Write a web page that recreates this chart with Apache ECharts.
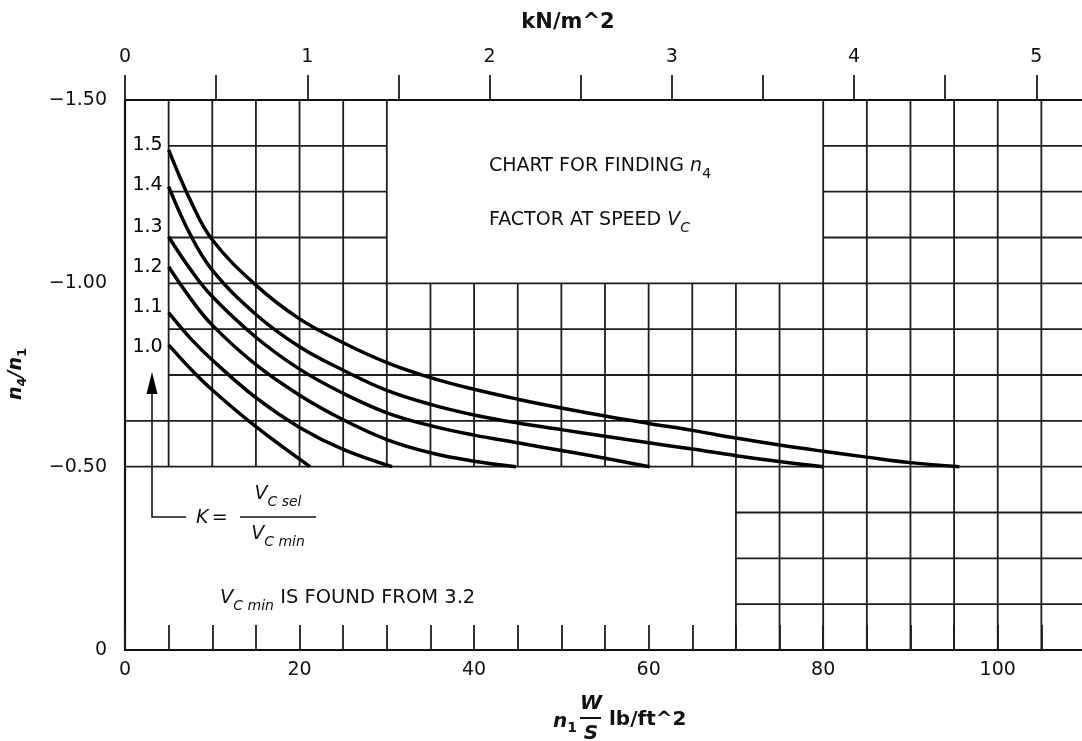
<!DOCTYPE html>
<html><head><meta charset="utf-8">
<script src="https://cdn.jsdelivr.net/npm/echarts@6/dist/echarts.min.js"></script>
<style>html,body{margin:0;padding:0;background:#fff}#c{width:1082px;height:741px}</style>
</head><body><div id="c"></div>
<script>
// ---- scales / ticks ----
const X_MAX = 110;              // lb/ft^2
const LB_PER_KN = 20.885;       // 1 kN/m^2 = 20.885 lb/ft^2
const xTickLabels = [0, 20, 40, 60, 80, 100];
const topTickLabels = [0, 1, 2, 3, 4, 5];
const yTickLabels = [-1.5, -1.0, -0.5, 0];
const GRID_STEP_X = 5, GRID_STEP_Y = 0.125;

// ---- curves: K value -> [n1 W/S, n4/n1 axis value] ----
const curveNames = ['1.0', '1.1', '1.2', '1.3', '1.4', '1.5'];
const k10 = [[5, -0.832], [7.5, -0.767], [10, -0.709], [15, -0.609], [21.2, -0.5]];
const k11 = [[5, -0.920], [7.5, -0.850], [10, -0.791], [15, -0.688], [20, -0.607], [25, -0.547], [30.6, -0.5]];
const k12 = [[5, -1.045], [7.5, -0.959], [10, -0.886], [15, -0.778], [20, -0.695], [25, -0.628], [30, -0.574], [35, -0.538], [40, -0.515], [44.8, -0.5]];
const k13 = [[5, -1.127], [7.5, -1.038], [10, -0.964], [15, -0.853], [20, -0.766], [25, -0.700], [30, -0.647], [35, -0.612], [40, -0.586], [45, -0.565], [50, -0.544], [55, -0.523], [60.1, -0.5]];
const k14 = [[5, -1.264], [7.5, -1.132], [10, -1.036], [15, -0.915], [20, -0.827], [25, -0.763], [30, -0.708], [35, -0.670], [40, -0.641], [45, -0.619], [50, -0.601], [55, -0.583], [60, -0.565], [65, -0.548], [70, -0.530], [75, -0.514], [80, -0.5]];
const k15 = [[5, -1.364], [7.5, -1.226], [10, -1.119], [15, -0.995], [20, -0.903], [25, -0.838], [30, -0.784], [35, -0.743], [40, -0.711], [45, -0.684], [50, -0.660], [55, -0.638], [60, -0.618], [65, -0.599], [70, -0.578], [75, -0.559], [80, -0.542], [85, -0.526], [90, -0.511], [95.6, -0.5]];
const curves = [k10, k11, k12, k13, k14, k15];

// blank panels of the chart paper (no grid drawn inside), in data units
const blankPanels = [
  { x: [30, 80], y: [-1.5, -1.0] },
  { x: [0, 70], y: [-0.5, 0] },
  { x: [0, 5], y: [-1.5, -0.625] }
];
const labelNudge = [2, -6, 0, -10, -1, -5];  // style: vertical label offsets (px)

// ---- build grid segments ----
function subtract(range, cuts) {
  let segs = [range];
  cuts.forEach(c => {
    const out = [];
    segs.forEach(s => {
      if (c[1] <= s[0] || c[0] >= s[1]) { out.push(s); return; }
      if (c[0] > s[0]) out.push([s[0], c[0]]);
      if (c[1] < s[1]) out.push([c[1], s[1]]);
    });
    segs = out;
  });
  return segs;
}
const gridSegs = [];
for (let x = GRID_STEP_X; x < X_MAX; x += GRID_STEP_X) {
  const cuts = blankPanels.filter(p => x > p.x[0] && x < p.x[1]).map(p => p.y);
  subtract([-1.5, 0], cuts).forEach(s => gridSegs.push([x, s[0], x, s[1]]));
}
for (let i = 1; i < 12; i++) {
  const y = -1.5 + i * GRID_STEP_Y;
  const cuts = blankPanels.filter(p => y > p.y[0] + 1e-9 && y < p.y[1] - 1e-9).map(p => p.x);
  subtract([0, X_MAX], cuts).forEach(s => gridSegs.push([s[0], y, s[1], y]));
}

const FONT = '"DejaVu Sans", Verdana, sans-serif';
const INK = '#111';

const chart = echarts.init(document.getElementById('c'), null, { renderer: 'canvas' });

const series = [{
  type: 'custom',
  z: 1,
  silent: true,
  clip: false,
  data: gridSegs,
  renderItem: (params, api) => {
    const a = api.coord([api.value(0), api.value(1)]);
    const b = api.coord([api.value(2), api.value(3)]);
    return { type: 'line', shape: { x1: a[0], y1: a[1], x2: b[0], y2: b[1] },
      style: { stroke: '#1e1e1e', lineWidth: 1.8 } };
  }
}];
curves.forEach((c, i) => {
  series.push({
    type: 'line', name: curveNames[i], data: c, smooth: 0.4,
    showSymbol: false, symbol: 'none', z: 3, silent: true,
    lineStyle: { color: '#000', width: 3.5 }
  });
});
series.push({
  type: 'scatter', z: 4, silent: true, symbolSize: 0.01,
  itemStyle: { color: '#000', opacity: 1 },
  data: curves.map((c, i) => ({
    value: c[0], name: curveNames[i],
    label: { offset: [0, labelNudge[i]] }
  })),
  label: { show: true, position: 'left', distance: 6, formatter: p => p.name,
    fontFamily: FONT, fontSize: 19, color: '#000', opacity: 1 }
});

const subRich = (size, extra) => Object.assign({ fontFamily: FONT, fontSize: size, fill: INK }, extra || {});

chart.setOption({
  animation: false,
  backgroundColor: '#fff',
  grid: { left: 125, top: 100, width: 960, height: 550, containLabel: false, outerBoundsMode: 'none' },
  xAxis: [{
    type: 'value', position: 'bottom', min: 0, max: X_MAX, interval: GRID_STEP_X,
    axisLine: { show: true, onZero: false, lineStyle: { color: INK, width: 2.2 } },
    axisTick: { show: true, inside: true, length: 25, lineStyle: { color: '#1e1e1e', width: 1.8 } },
    axisLabel: { margin: 11, fontFamily: FONT, fontSize: 19, color: INK,
      formatter: v => xTickLabels.some(t => Math.abs(t - v) < 1e-6) ? String(v) : '' },
    splitLine: { show: false }
  }, {
    type: 'value', position: 'top', min: 0, max: X_MAX / LB_PER_KN, interval: 0.5,
    axisLine: { show: true, onZero: false, lineStyle: { color: INK, width: 2.2 } },
    axisTick: { show: true, inside: false, length: 25, lineStyle: { color: '#1e1e1e', width: 1.8 } },
    axisLabel: { margin: 33, fontFamily: FONT, fontSize: 19, color: INK,
      formatter: v => topTickLabels.some(t => Math.abs(t - v) < 1e-6) ? String(Math.round(v)) : '' },
    splitLine: { show: false }
  }],
  yAxis: {
    type: 'value', inverse: true, min: -1.5, max: 0, interval: GRID_STEP_Y,
    axisLine: { show: true, onZero: false, lineStyle: { color: INK, width: 2.2 } },
    axisTick: { show: false },
    axisLabel: { margin: 18, fontFamily: FONT, fontSize: 19, color: INK,
      formatter: v => {
        if (!yTickLabels.some(t => Math.abs(t - v) < 1e-6)) return '';
        return v === 0 ? '0' : '\u2212' + Math.abs(v).toFixed(2);
      } },
    splitLine: { show: false }
  },
  series: series,
  graphic: [
    { type: 'text', x: 568, y: 23, z: 10,
      style: { text: 'kN/m^2', font: 'bold 21px ' + FONT, fill: INK, align: 'center', verticalAlign: 'middle' } },
    // bottom axis title
    { type: 'text', x: 577, y: 722, z: 10,
      style: { text: '{n|n}{s|1}', align: 'right', verticalAlign: 'middle',
        rich: { n: subRich(20, { fontWeight: 'bold', fontStyle: 'italic', lineHeight: 26 }),
                s: subRich(14, { fontWeight: 'bold', lineHeight: 14, verticalAlign: 'bottom' }) } } },
    { type: 'text', x: 591, y: 704, z: 10,
      style: { text: 'W', font: 'italic bold 20px ' + FONT, fill: INK, align: 'center', verticalAlign: 'middle' } },
    { type: 'line', z: 10, shape: { x1: 580, y1: 718, x2: 601, y2: 718 }, style: { stroke: INK, lineWidth: 2 } },
    { type: 'text', x: 591, y: 734, z: 10,
      style: { text: 'S', font: 'italic bold 20px ' + FONT, fill: INK, align: 'center', verticalAlign: 'middle' } },
    { type: 'text', x: 609, y: 720, z: 10,
      style: { text: 'lb/ft^2', font: 'bold 20px ' + FONT, fill: INK, align: 'left', verticalAlign: 'middle' } },
    // y axis title
    { type: 'text', x: 16, y: 374, rotation: Math.PI / 2, z: 10,
      style: { text: '{n|n}{s|4}{n|/}{n|n}{s|1}', align: 'center', verticalAlign: 'middle',
        rich: { n: subRich(19, { fontWeight: 'bold', fontStyle: 'italic', lineHeight: 26 }),
                s: subRich(13, { fontWeight: 'bold', lineHeight: 13, verticalAlign: 'bottom' }) } } },
    // note box text
    { type: 'text', x: 489, y: 166, z: 10,
      style: { text: '{r|CHART FOR FINDING }{i|n}{s|4}', align: 'left', verticalAlign: 'middle',
        rich: { r: subRich(19, { lineHeight: 30 }), i: subRich(19, { fontStyle: 'italic', lineHeight: 30 }),
                s: subRich(14, { lineHeight: 14, verticalAlign: 'bottom' }) } } },
    { type: 'text', x: 489, y: 220, z: 10,
      style: { text: '{r|FACTOR AT SPEED }{i|V}{s|C}', align: 'left', verticalAlign: 'middle',
        rich: { r: subRich(19, { lineHeight: 30 }), i: subRich(19, { fontStyle: 'italic', lineHeight: 30 }),
                s: subRich(14, { fontStyle: 'italic', lineHeight: 14, verticalAlign: 'bottom' }) } } },
    // arrow
    { type: 'polyline', z: 10, shape: { points: [[152, 392], [152, 517], [186, 517]] },
      style: { stroke: INK, lineWidth: 1.6, fill: null } },
    { type: 'polygon', z: 10, shape: { points: [[152, 372], [146.5, 394], [157.5, 394]] },
      style: { fill: '#000' } },
    // K = Vc sel / Vc min
    { type: 'text', x: 196, y: 518, z: 10,
      style: { text: '{i|K} {r|=}', align: 'left', verticalAlign: 'middle',
        rich: { i: subRich(19, { fontStyle: 'italic' }), r: subRich(19) } } },
    { type: 'line', z: 10, shape: { x1: 240, y1: 517, x2: 316, y2: 517 }, style: { stroke: INK, lineWidth: 1.6 } },
    { type: 'text', x: 278, y: 494, z: 10,
      style: { text: '{i|V}{s|C sel}', align: 'center', verticalAlign: 'middle',
        rich: { i: subRich(19, { fontStyle: 'italic', lineHeight: 30 }),
                s: subRich(14, { fontStyle: 'italic', lineHeight: 14, verticalAlign: 'bottom' }) } } },
    { type: 'text', x: 278, y: 534, z: 10,
      style: { text: '{i|V}{s|C min}', align: 'center', verticalAlign: 'middle',
        rich: { i: subRich(19, { fontStyle: 'italic', lineHeight: 30 }),
                s: subRich(14, { fontStyle: 'italic', lineHeight: 14, verticalAlign: 'bottom' }) } } },
    { type: 'text', x: 220, y: 598, z: 10,
      style: { text: '{i|V}{s|C min}{r| IS FOUND FROM 3.2}', align: 'left', verticalAlign: 'middle',
        rich: { i: subRich(19.5, { fontStyle: 'italic', lineHeight: 30 }), r: subRich(19.5, { lineHeight: 30 }),
                s: subRich(14, { fontStyle: 'italic', lineHeight: 14, verticalAlign: 'bottom' }) } } }
  ]
});
</script></body></html>
